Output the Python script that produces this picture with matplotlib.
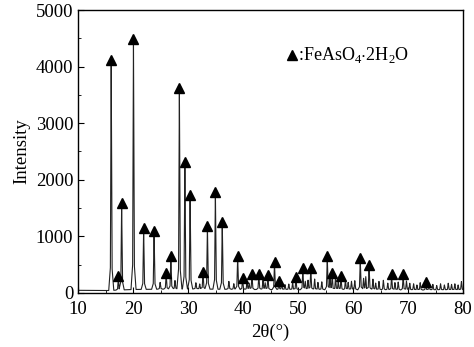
import matplotlib
matplotlib.use('Agg')
import matplotlib.pyplot as plt
import numpy as np
from matplotlib.ticker import MultipleLocator

plt.rcParams['font.family'] = 'Liberation Serif'
plt.rcParams['mathtext.fontset'] = 'custom'
plt.rcParams['mathtext.rm'] = 'Liberation Serif'
plt.rcParams['font.size'] = 13.5

# --- tagged FeAsO4.2H2O peaks: 2theta (deg), peak intensity ---
tag_pos = [16.0, 17.3, 17.9, 20.05, 21.9, 23.8, 26.0, 26.85, 28.4, 29.4, 30.35,
           32.7, 33.5, 34.95, 36.2, 39.0, 39.9, 41.6, 42.85, 44.5, 45.7, 46.5,
           49.6, 50.85, 52.3, 55.3, 56.2, 57.8, 61.3, 62.9, 67.0, 69.1, 73.2]
tag_int = [4030, 200, 1500, 4400, 1060, 1010, 260, 560, 3540, 2230, 1640,
           280, 1100, 1700, 1170, 560, 180, 250, 250, 220, 460, 120,
           190, 350, 350, 560, 260, 200, 520, 410, 240, 240, 110]

# --- small untagged reflections / noise bumps ---
minor_pos = [24.9, 27.6, 31.4, 32.1, 37.4, 38.3, 40.7, 41.1, 43.6, 44.0, 47.0,
             47.6, 48.3, 49.0, 51.3, 51.8, 53.0, 53.6, 54.3, 55.8, 56.8, 57.3,
             58.6, 59.1, 59.7, 60.3, 61.9, 62.3, 63.6, 64.1, 64.7, 65.5, 66.3,
             67.6, 68.2, 69.7, 70.3, 71.0, 71.6, 72.2, 73.8, 74.5, 75.2, 75.9,
             76.6, 77.3, 77.9, 78.5, 79.1, 79.7]
minor_int = [120, 150, 110, 90, 140, 100, 130, 110, 160, 120, 110,
             90, 100, 130, 150, 170, 190, 130, 140, 200, 220, 150,
             180, 130, 150, 160, 200, 230, 190, 120, 150, 170, 120,
             130, 140, 160, 120, 110, 90, 130, 120, 100, 80,
             110, 90, 120, 100, 110, 90, 150]

# --- background level read along the pattern ---
bg_pos = [10, 15, 20, 30, 40, 50, 60, 70, 80]
bg_int = [45, 40, 60, 70, 60, 55, 55, 50, 50]

x = np.arange(10, 80.001, 0.01)
y = np.interp(x, bg_pos, bg_int)
for p, h in zip(tag_pos + minor_pos, tag_int + minor_int):
    y = y + np.interp(x, [p - 0.45, p - 0.15, p, p + 0.15, p + 0.45],
                      [0, 0.1 * h, h, 0.1 * h, 0])

fig = plt.figure(figsize=(4.74, 3.47), dpi=100)
ax = fig.add_axes([0.165, 0.156, 0.812, 0.815])

ax.plot(x, y, color='#222222', lw=0.8)
ax.plot(tag_pos, np.array(tag_int) + 90, ls='none', marker='^', ms=7.5,
        color='black')

# legend-like annotation
ax.plot([0.555], [0.842], transform=ax.transAxes, ls='none', marker='^',
        ms=7, color='black')
ax.text(0.57, 0.842, r':FeAsO$_4$$\cdot$2H$_2$O', transform=ax.transAxes,
        va='center', ha='left', fontsize=13)

ax.set_xlim(10, 80)
ax.set_ylim(0, 5000)
ax.xaxis.set_major_locator(MultipleLocator(10))
ax.yaxis.set_major_locator(MultipleLocator(1000))
ax.yaxis.set_minor_locator(MultipleLocator(500))
ax.xaxis.set_minor_locator(MultipleLocator(5))
ax.tick_params(which='both', direction='in', top=False, right=False)
ax.tick_params(which='major', length=4)
ax.tick_params(which='minor', length=2)
ax.tick_params(axis='x', pad=6)
for s in ax.spines.values():
    s.set_linewidth(1.0)

ax.set_xlabel('2θ(°)', labelpad=4)
ax.set_ylabel('Intensity', labelpad=4)

fig.savefig('out.png', dpi=100)
